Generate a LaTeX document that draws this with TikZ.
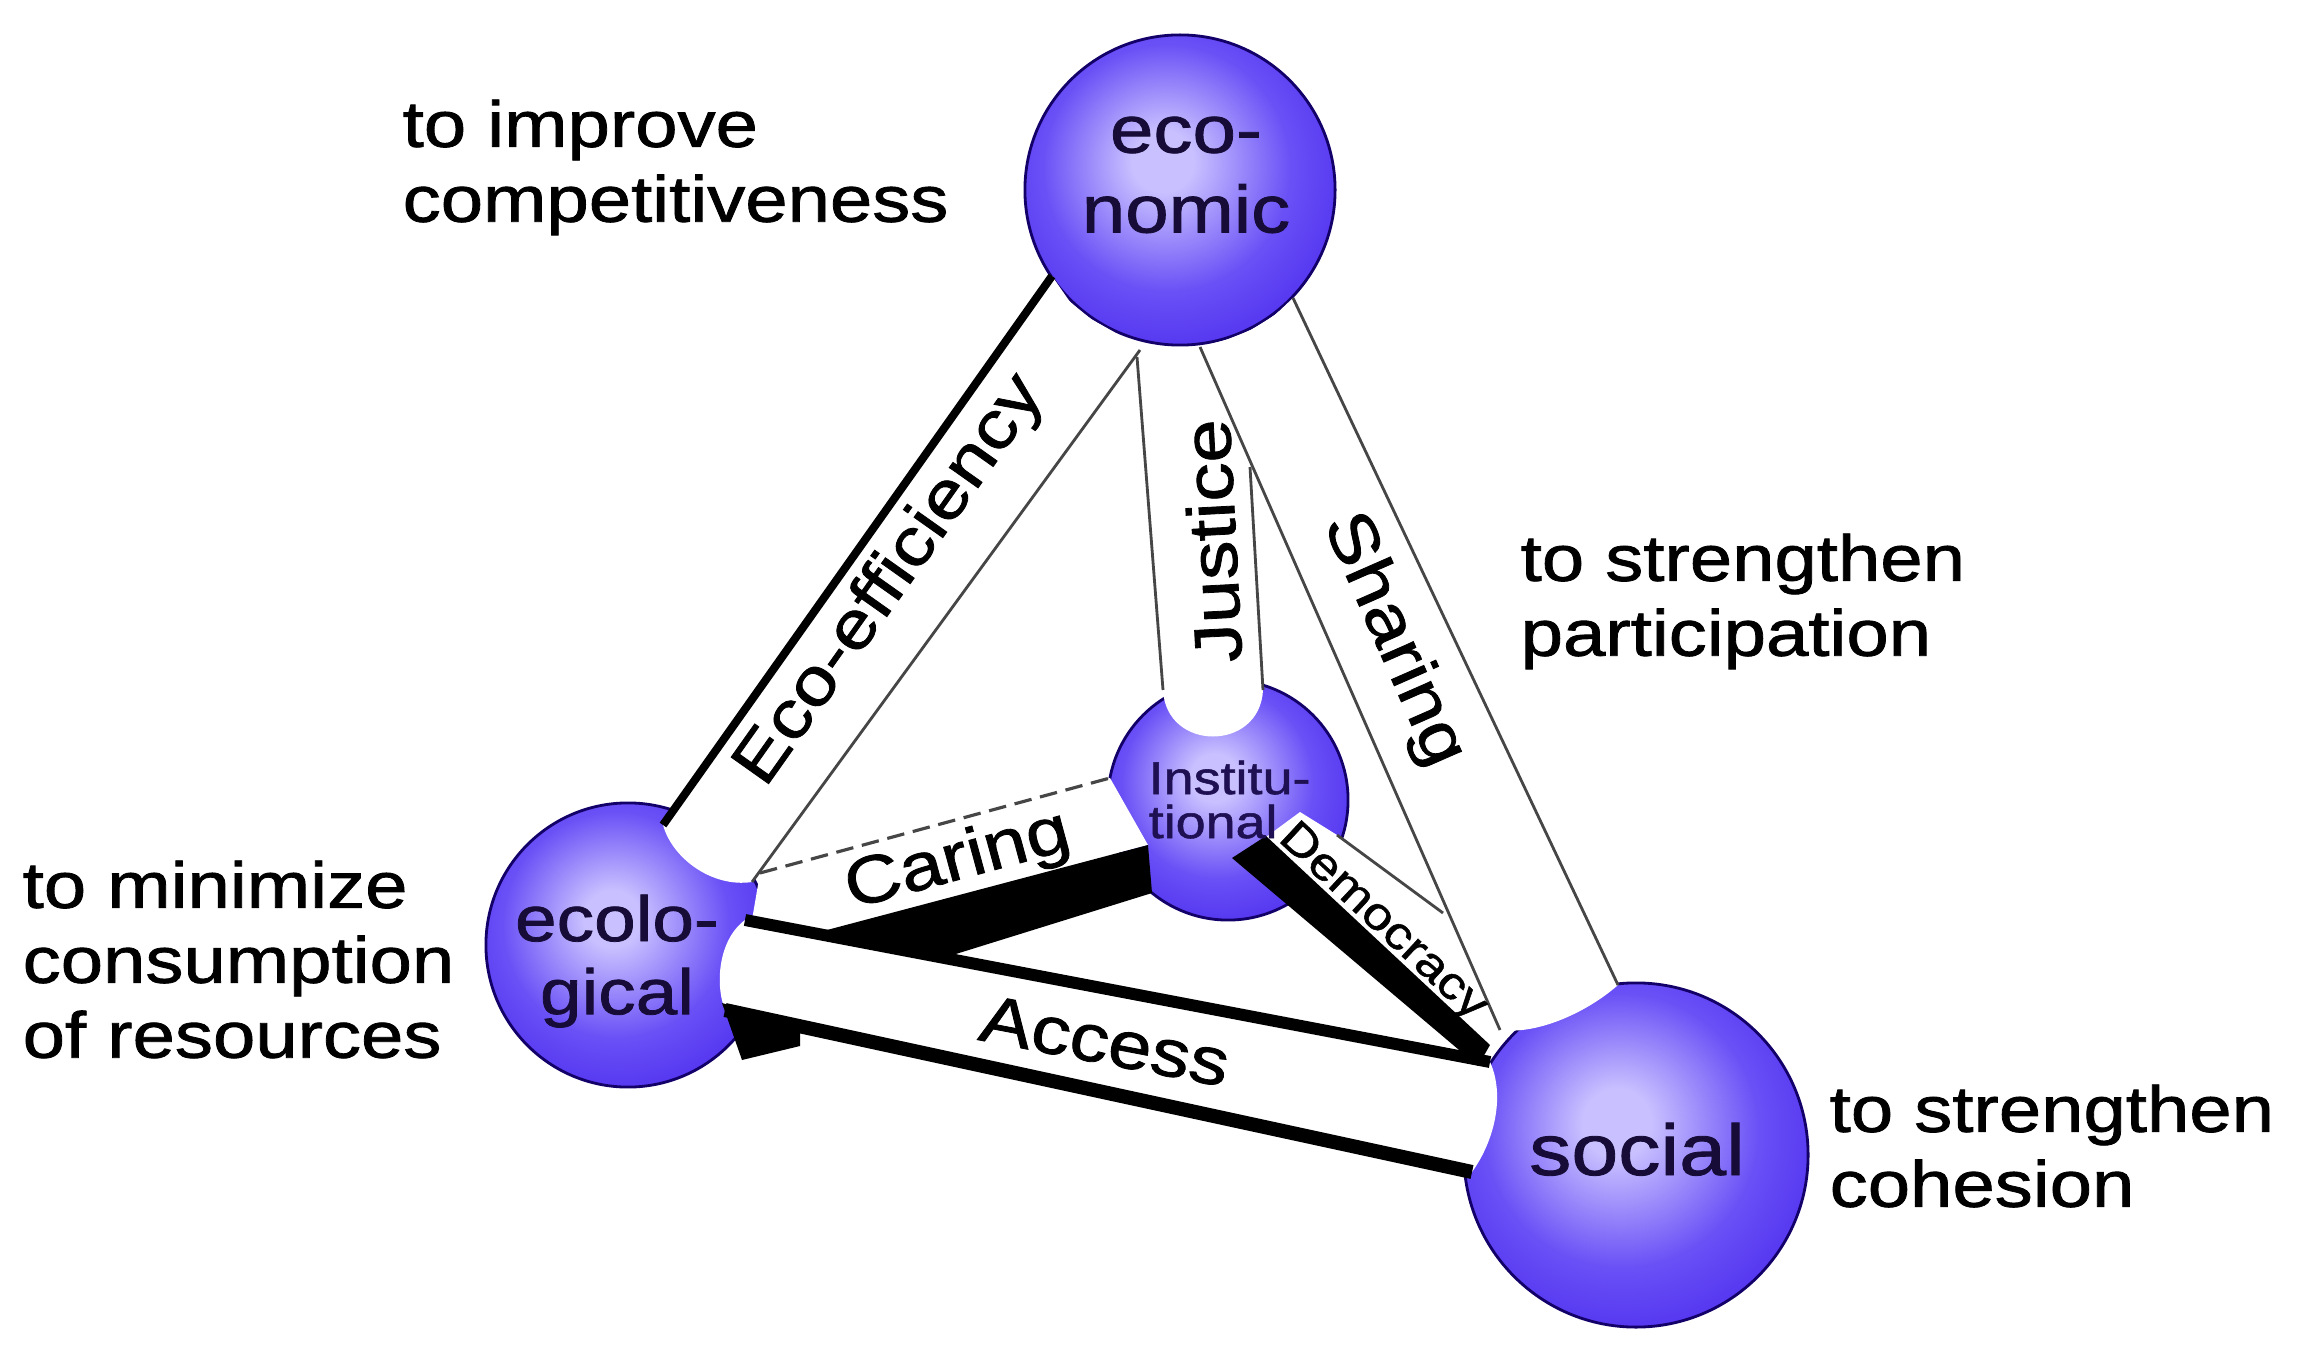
\documentclass[tikz,border=0pt]{standalone}
\usepackage{fontspec}
\setmainfont{Liberation Sans}[FakeStretch=1.17,FakeBold=1.2]
\definecolor{orbH}{RGB}{200,192,255}
\definecolor{orbM}{RGB}{105,80,246}
\definecolor{orbB}{RGB}{72,40,236}
\definecolor{orbD}{RGB}{48,12,200}
\definecolor{orbE}{RGB}{20,0,105}
\definecolor{edgegrey}{RGB}{70,70,70}
\definecolor{orbink}{RGB}{22,12,55}
\pgfdeclareradialshading{orb}{\pgfpoint{-3bp}{5bp}}{color(0bp)=(orbH); color(5bp)=(orbH); color(20bp)=(orbM); color(34bp)=(orbB); color(46bp)=(orbD); color(54bp)=(orbE); color(70bp)=(orbE)}
\tikzset{
  sphere/.style={circle, inner sep=0pt, shading=orb, draw=orbE, line width=0.8pt},
  edgethick/.style={line width=2.3pt, draw=black},
  edgethin/.style={line width=0.8pt, draw=edgegrey},
  edgedash/.style={line width=0.9pt, draw=edgegrey, dash pattern=on 5pt off 2.5pt},
  goal/.style={font=\fontsize{18.5pt}{21.3pt}\selectfont, align=left, inner sep=0pt, anchor=north west},
  orbtext/.style={font=\fontsize{19pt}{22.7pt}\selectfont, align=center, inner sep=0pt, text=orbink},
  barlabel/.style={font=\fontsize{19pt}{22pt}\selectfont, inner sep=0pt},
}
\begin{document}
\begin{tikzpicture}[x=0.01cm, y=-0.01cm]
\useasboundingbox (0,0) rectangle (2303,1355);
\fill[white] (0,0) rectangle (2303,1355);

% spheres
\node[sphere, minimum size=3.1cm]  (eco) at (1180,190) {};
\node[sphere, minimum size=2.84cm] (ecl) at (628,945) {};
\node[sphere, minimum size=2.4cm]  (ins) at (1228,800) {};
\node[sphere, minimum size=3.44cm] (soc) at (1636,1155) {};

% bar coordinates
\coordinate (eeA1) at (1052,276); \coordinate (eeB1) at (663,825);
\coordinate (eeA2) at (1140,350); \coordinate (eeB2) at (752,882);
\coordinate (juA1) at (1137,357); \coordinate (juB1) at (1163,690);
\coordinate (juA2) at (1250,467); \coordinate (juB2) at (1263,690);
\coordinate (shA1) at (1200,347); \coordinate (shB1) at (1500,1030);
\coordinate (shA2) at (1293,298); \coordinate (shB2) at (1618,985);
\coordinate (caA1) at (760,873);  \coordinate (caB1) at (1110,778);
\coordinate (caB2) at (1148,845); \coordinate (caA2) at (827,930);
\coordinate (caA3) at (752,920);  \coordinate (caB3) at (1152,893);
\coordinate (caA4) at (943,958);
\coordinate (acA1) at (745,920);  \coordinate (acB1) at (1490,1062);
\coordinate (acA2) at (725,1010); \coordinate (acB2) at (1472,1172);
\coordinate (deA1) at (1262,840); \coordinate (deT) at (1300,812);
\coordinate (deA2) at (1337,835); \coordinate (deM) at (1443,913);
\coordinate (deB1) at (1490,1045);
\coordinate (dfA1) at (1232,858); \coordinate (dfA2) at (1266,836);
\coordinate (dfB1) at (1490,1045); \coordinate (dfB2) at (1478,1066);

% white bar bodies
\fill[white] (eeA1) -- (eeB1) .. controls (672,858) and (712,888) .. (eeB2)
  -- (eeA2) -- (1114,332) -- (1091,319) -- (1070,302) -- cycle;
\fill[white] (juA1) -- (juB1) .. controls (1166,752) and (1260,752) .. (juB2)
  -- (juA2) -- (shA1) .. controls (1185,347) and (1150,352) .. (juA1);
\fill[white] (shA1) -- (shB1) .. controls (1540,1035) and (1590,1010) .. (shB2)
  -- (shA2) -- (1275,315) -- (1251,330) -- (1226,340) -- cycle;
\fill[white] (caA1) -- (caB1) -- (caB2) -- (caA2) -- (caA3) -- cycle;
\fill[white] (acA1) -- (acB1) .. controls (1505,1095) and (1495,1140) .. (acB2)
  -- (acA2) .. controls (715,985) and (718,940) .. (acA1);
\fill[white] (deA1) -- (deT) -- (deA2) -- (deM) -- (shB1) -- (deB1) -- cycle;

% dark faces
\fill[black] (caA2) -- (caB2) -- (caB3) -- (caA4) -- cycle;
\fill[black] (dfA1) -- (dfA2) -- (dfB1) -- (dfB2) -- cycle;
\fill[black] (722,1003) -- (800,1026) -- (800,1046) -- (742,1060) -- cycle;

% edges
\draw[edgethick] (eeA1) -- (eeB1);
\draw[edgethin] (eeA2) -- (eeB2);
\draw[edgethin] (juA1) -- (juB1);
\draw[edgethin] (juA2) -- (juB2);
\draw[edgethin] (shA1) -- (shB1);
\draw[edgethin] (shA2) -- (shB2);
\draw[edgedash] (caA1) -- (caB1);
\draw[line width=3.4pt] (acA1) -- (acB1);
\draw[line width=4pt] (acA2) -- (acB2);
\draw[edgethin] (deA2) -- (deM);

% bar labels
\node[barlabel, rotate=54.7] (lEE) at (891,581) {Eco-efficiency};
\node[barlabel, rotate=93] (lJu) at (1212,541) {Justice};
\node[barlabel, rotate=-66.3] (lSh) at (1393,640) {Sharing};
\node[barlabel, rotate=15.2] (lCa) at (958,862) {Caring};
\node[barlabel, rotate=-10.8] (lAc) at (1105,1041) {Access};
\node[barlabel, rotate=-43, font=\fontsize{12.8pt}{14pt}\selectfont] (lDe) at (1382,923) {Democracy};

% sphere labels
\node[orbtext, anchor=north] (tEco) at (1186,116) {eco-\\nomic};
\node[orbtext, anchor=north, font=\fontsize{18.2pt}{20.8pt}\selectfont] (tEcl) at (617,894) {ecolo-\\gical};
\node[orbtext, anchor=north west, align=left, font=\fontsize{13.1pt}{12.5pt}\selectfont, text=orbink!85!orbB] (tIns) at (1148,760) {Institu-\\tional};
\node[orbtext, anchor=base, font=\fontsize{20.5pt}{24pt}\selectfont] (tSoc) at (1637,1175) {social};

% goals
\node[goal] (gEco) at (402,99) {to improve\\competitiveness};
\node[goal] (gEcl) at (22,860) {to minimize\\consumption\\of resources};
\node[goal] (gPar) at (1520,533) {to strengthen\\participation};
\node[goal] (gCoh) at (1829,1084) {to strengthen\\cohesion};
\end{tikzpicture}
\end{document}
